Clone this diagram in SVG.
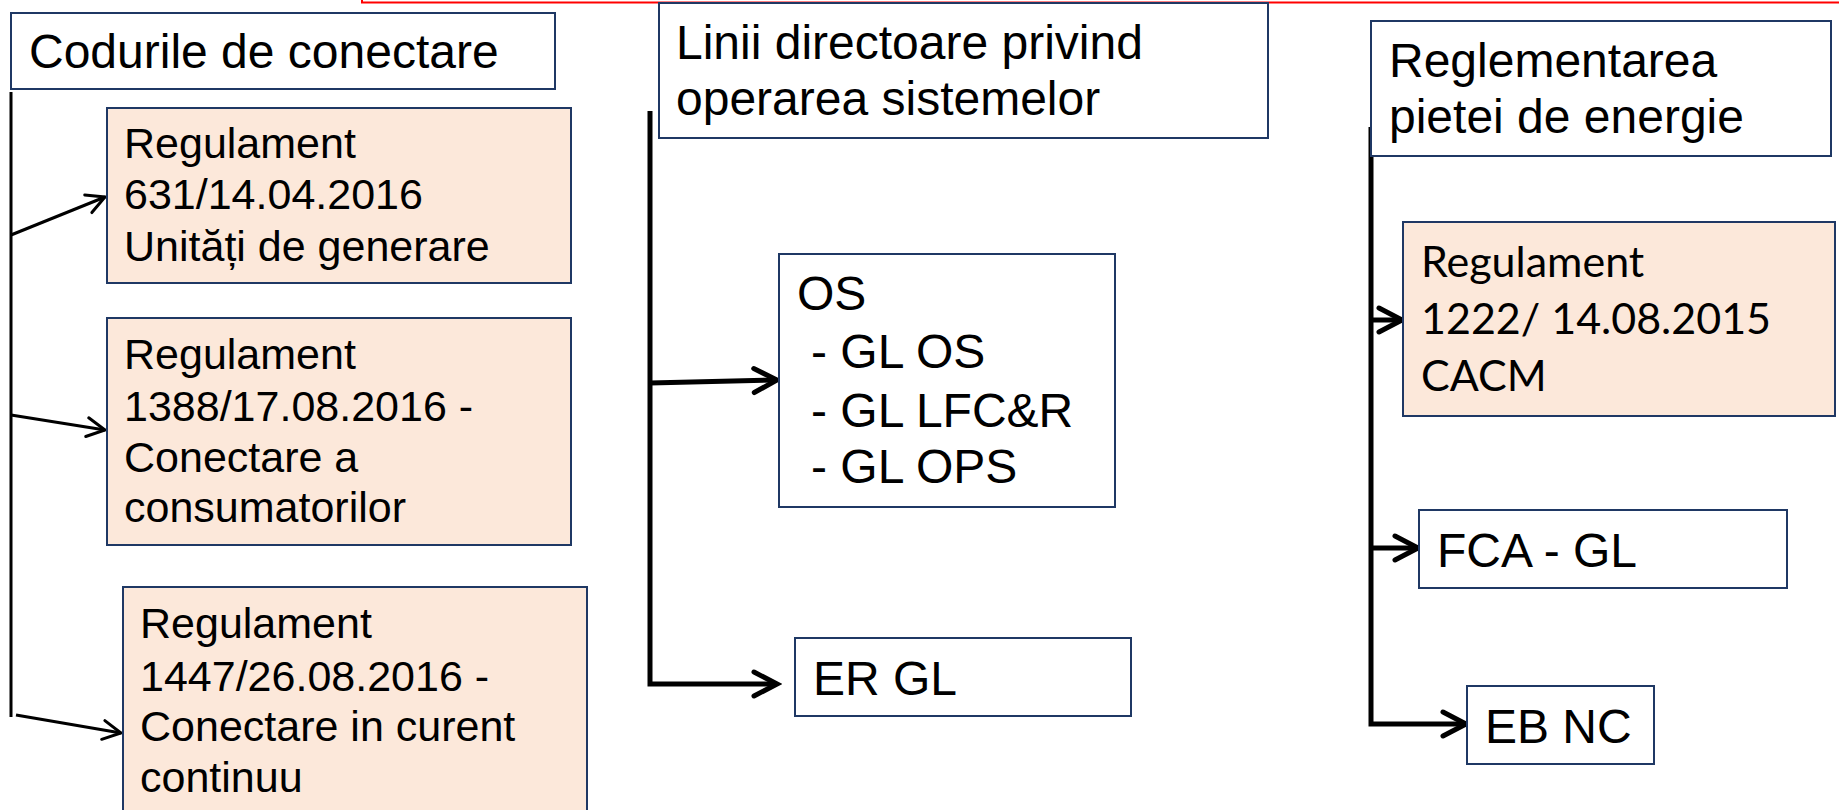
<svg xmlns="http://www.w3.org/2000/svg" width="1839" height="810" viewBox="0 0 1839 810">
<style>
.box{fill:#ffffff;stroke:#1F3864;stroke-width:2}
.peach{fill:#FCE8DA;stroke:#1F3864;stroke-width:2}
.t48{font-family:"Liberation Sans",Arial,sans-serif;font-size:48px;fill:#000}
.t43{font-family:"Liberation Sans",Arial,sans-serif;font-size:43px;fill:#000}
.cal{font-family:Lato,"Open Sans",sans-serif;font-size:43px;fill:#000}
.thin{fill:none;stroke:#000;stroke-width:3;marker-end:url(#headThin)}
.thick{fill:none;stroke:#000;stroke-width:5;marker-end:url(#headThick)}
.trunkThin{fill:none;stroke:#000;stroke-width:3}
.trunkThick{fill:none;stroke:#000;stroke-width:5}
</style>
<defs>
<marker id="headThin" markerUnits="userSpaceOnUse" markerWidth="26" markerHeight="26" viewBox="0 0 26 26" refX="22" refY="13" orient="auto">
<path d="M4,3.5 L22,13 L4,22.5" fill="none" stroke="#000" stroke-width="3" stroke-linecap="round" stroke-linejoin="miter"/>
</marker>
<marker id="headThick" markerUnits="userSpaceOnUse" markerWidth="34" markerHeight="34" viewBox="0 0 34 34" refX="29" refY="17" orient="auto">
<path d="M6,5 L29,17 L6,29" fill="none" stroke="#000" stroke-width="5" stroke-linecap="round" stroke-linejoin="miter"/>
</marker>
</defs>
<rect width="1839" height="810" fill="#ffffff"/>
<path d="M362,0 V2.5 H1839" fill="none" stroke="#FF0000" stroke-width="2"/>

<g id="connectors">
<line class="trunkThin" x1="11" y1="92" x2="11" y2="717"/>
<line class="thin" x1="11" y1="235" x2="105" y2="197"/>
<line class="thin" x1="11" y1="415" x2="105" y2="430"/>
<line class="thin" x1="16" y1="715" x2="121" y2="733"/>
<path class="thick" d="M650,111 V684 H777"/>
<line class="thick" x1="650" y1="383" x2="777" y2="380"/>
<path class="thick" d="M1371,127 V724 H1466"/>
<line class="thick" x1="1371" y1="320" x2="1402" y2="320"/>
<line class="thick" x1="1371" y1="548" x2="1418" y2="548"/>
</g>

<g id="node-codurile">
<rect class="box" x="11" y="13" width="544" height="76"/>
<text class="t48" x="29" y="68">Codurile de conectare</text>
</g>

<g id="node-reg631">
<rect class="peach" x="107" y="108" width="464" height="175"/>
<text class="t43" x="124" y="158">Regulament</text>
<text class="t43" x="124" y="209">631/14.04.2016</text>
<text class="t43" x="124" y="261">Unități de generare</text>
</g>

<g id="node-reg1388">
<rect class="peach" x="107" y="318" width="464" height="227"/>
<text class="t43" x="124" y="369">Regulament</text>
<text class="t43" x="124" y="421">1388/17.08.2016 -</text>
<text class="t43" x="124" y="472">Conectare a</text>
<text class="t43" x="124" y="522">consumatorilor</text>
</g>

<g id="node-reg1447">
<rect class="peach" x="123" y="587" width="464" height="230"/>
<text class="t43" x="140" y="638">Regulament</text>
<text class="t43" x="140" y="691">1447/26.08.2016 -</text>
<text class="t43" x="140" y="741">Conectare in curent</text>
<text class="t43" x="140" y="792">continuu</text>
</g>

<g id="node-linii">
<rect class="box" x="659" y="3" width="609" height="135"/>
<text class="t48" x="676" y="59">Linii directoare privind</text>
<text class="t48" x="676" y="115">operarea sistemelor</text>
</g>

<g id="node-os">
<rect class="box" x="779" y="254" width="336" height="253"/>
<text class="t48" x="797" y="310">OS</text>
<text class="t48" x="811" y="368">- GL OS</text>
<text class="t48" x="811" y="427">- GL LFC&amp;R</text>
<text class="t48" x="811" y="483">- GL OPS</text>
</g>

<g id="node-ergl">
<rect class="box" x="795" y="638" width="336" height="78"/>
<text class="t48" x="813" y="695">ER GL</text>
</g>

<g id="node-reglementarea">
<rect class="box" x="1371" y="21" width="460" height="135"/>
<text class="t48" x="1389" y="77">Reglementarea</text>
<text class="t48" x="1389" y="133">pietei de energie</text>
</g>

<g id="node-cacm">
<rect class="peach" x="1403" y="222" width="432" height="194"/>
<text class="cal" x="1421" y="277">Regulament</text>
<text class="cal" x="1421" y="334">1222/ 14.08.2015</text>
<text class="cal" x="1421" y="391">CACM</text>
</g>

<g id="node-fca">
<rect class="box" x="1419" y="510" width="368" height="78"/>
<text class="t48" x="1437" y="567">FCA - GL</text>
</g>

<g id="node-ebnc">
<rect class="box" x="1467" y="686" width="187" height="78"/>
<text class="t48" x="1485" y="743">EB NC</text>
</g>
</svg>
